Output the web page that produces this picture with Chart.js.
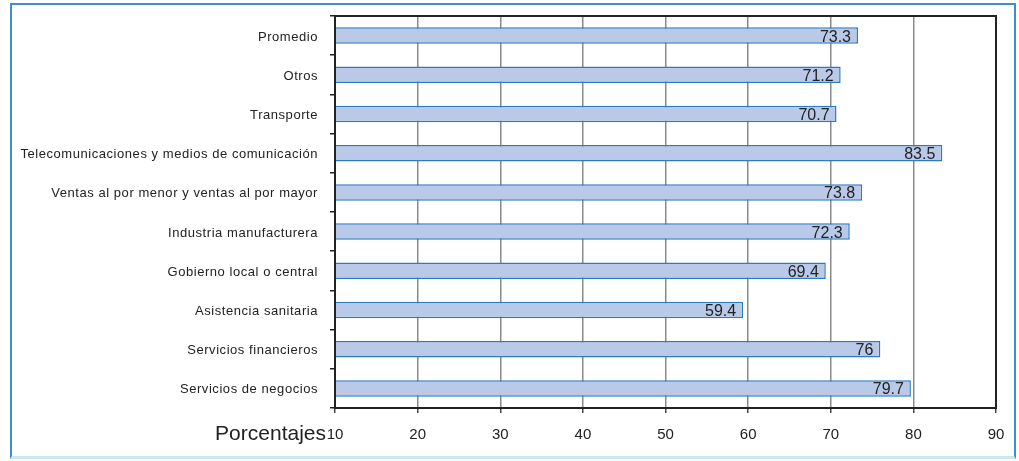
<!DOCTYPE html>
<html><head><meta charset="utf-8">
<script src="https://cdn.jsdelivr.net/npm/chart.js@4/dist/chart.umd.min.js"></script>
<style>
html,body{margin:0;padding:0;background:#fff;}
#wrap{position:absolute;left:0;top:0;width:1019px;height:461px;}
#frame{position:absolute;left:10px;top:3px;width:1006px;height:456px;border-left:2px solid #3d8fd1;border-top:2px solid #3d8fd1;border-right:2px solid #3d8fd1;border-bottom:3px solid #cde6f4;box-sizing:border-box;}
canvas{position:absolute;left:0;top:0;}
</style></head>
<body>
<div id="wrap"><div id="frame"></div><canvas id="c" width="1019" height="461"></canvas></div>
<script>
const categories = ["Promedio","Otros","Transporte","Telecomunicaciones y medios de comunicación","Ventas al por menor y ventas al por mayor","Industria manufacturera","Gobierno local o central","Asistencia sanitaria","Servicios financieros","Servicios de negocios"];
const values = [73.3,71.2,70.7,83.5,73.8,72.3,69.4,59.4,76,79.7];
const valueLabels = ["73.3","71.2","70.7","83.5","73.8","72.3","69.4","59.4","76","79.7"];
const xTicks = [10,20,30,40,50,60,70,80,90];
const axisTitle = "Porcentajes";

const extras = {
  id:'extras',
  afterDatasetsDraw(chart){
    const ctx = chart.ctx, a = chart.chartArea;
    ctx.save();
    // category labels with letter spacing
    const ys = chart.scales.y;
    ctx.font = '13px "Liberation Sans", Arial, sans-serif';
    ctx.letterSpacing = '0.55px';
    ctx.fillStyle = '#222';
    ctx.textAlign = 'right';
    ctx.textBaseline = 'middle';
    categories.forEach((c,i)=>{
      ctx.fillText(ys.getLabelForValue(i), a.left - 17, ys.getPixelForValue(i) + 1.5);
    });
    ctx.letterSpacing = '0px';
    // value labels
    ctx.font = '16px "Liberation Sans", Arial, sans-serif';
    chart.getDatasetMeta(0).data.forEach((bar,i)=>{
      ctx.fillText(valueLabels[i], bar.x - 7, bar.y + 1.5);
    });
    // frame
    ctx.strokeStyle = '#222';
    ctx.lineWidth = 2;
    ctx.strokeRect(a.left, a.top, a.right - a.left, a.bottom - a.top);
    // axis title
    ctx.font = '21px "Liberation Sans", Arial, sans-serif';
    ctx.textBaseline = 'alphabetic';
    ctx.fillText(axisTitle, a.left - 9, 440);
    ctx.restore();
  }
};

new Chart(document.getElementById('c'), {
  type:'bar',
  data:{labels:categories, datasets:[{data:values, backgroundColor:'#b9c9e7', borderColor:'#2b7bc2', borderWidth:1.5, categoryPercentage:1, barPercentage:0.42}]},
  options:{
    indexAxis:'y', responsive:false, animation:false, devicePixelRatio:1,
    layout:{padding:{top:16,right:23,left:0,bottom:0}},
    plugins:{legend:{display:false}, tooltip:{enabled:false}},
    scales:{
      x:{min:10,max:90,
        afterBuildTicks(s){ s.ticks = xTicks.map(v=>({value:v})); },
        afterFit(s){ s.height = 461 - 16 - 392; },
        grid:{color:'#8a8a8a', lineWidth:1.5, tickLength:5, tickColor:'#444'},
        border:{color:'#222', width:2},
        ticks:{font:{size:15, family:'"Liberation Sans", Arial, sans-serif'}, color:'#222', padding:13, maxRotation:0}
      },
      y:{
        afterFit(s){ s.width = 335; },
        grid:{drawOnChartArea:false, tickLength:5, tickColor:'#222', lineWidth:1.5},
        border:{color:'#222', width:2},
        ticks:{display:false, autoSkip:false}
      }
    }
  },
  plugins:[extras]
});
</script>
</body></html>
